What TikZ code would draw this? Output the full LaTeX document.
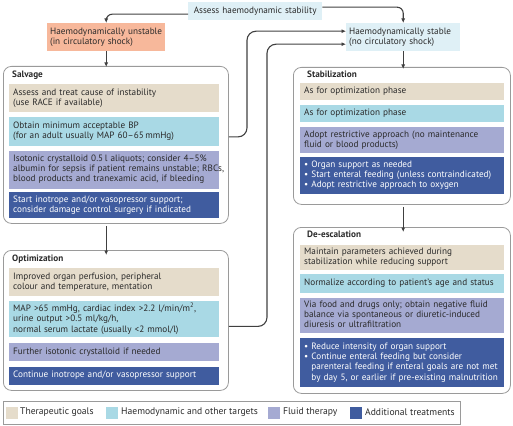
\documentclass[tikz,border=0pt]{standalone}
\usepackage{fontspec}
\setmainfont{PT Sans}
\usetikzlibrary{arrows.meta}
\definecolor{goalc}{HTML}{E5DCCB}
\definecolor{tgtc}{HTML}{A9D9E5}
\definecolor{fluidc}{HTML}{A5AAD2}
\definecolor{addc}{HTML}{405C9F}
\definecolor{orangec}{HTML}{F7B89B}
\definecolor{lightc}{HTML}{DFF0F6}
\definecolor{linec}{HTML}{404040}
\definecolor{borderc}{HTML}{9A9A9A}
\definecolor{textc}{HTML}{2A2A2A}
\newcommand{\fs}{\fontsize{9.2pt}{10.2pt}\selectfont}
\newcommand{\tl}[1]{\begin{tabular}{@{}l@{}}#1\end{tabular}}
\tikzset{
  ib/.style={anchor=north west, inner xsep=4pt, inner ysep=0pt, align=left, font=\fs, text=textc},
  goal/.style={ib, fill=goalc},
  tgt/.style={ib, fill=tgtc},
  fluid/.style={ib, fill=fluidc},
  add/.style={ib, fill=addc, text=white},
  lc/.style={text width=202pt},
  rc/.style={text width=196pt},
  big/.style={anchor=north west, draw=borderc, line width=0.8pt, rounded corners=8pt, fill=white, inner sep=0pt},
  ttl/.style={anchor=north west, inner sep=0pt, font=\fs\bfseries, text=textc},
  arr/.style={draw=linec, line width=1.1pt, -{Latex[length=4.5pt,width=4pt]}},
  state/.style={anchor=north west, inner xsep=3pt, inner ysep=0pt, align=left, font=\fs, text=textc},
  sw/.style={anchor=west, minimum width=12pt, minimum height=12pt, inner sep=0pt},
  lgt/.style={anchor=west, font=\fontsize{9.6pt}{10pt}\selectfont, text=textc, inner sep=0pt}
}
\begin{document}
\begin{tikzpicture}[x=1pt,y=-1pt]
\useasboundingbox (0,0) rectangle (513,425);
% top
\node[state, fill=lightc, minimum width=134pt, minimum height=18pt, align=center, anchor=north west, text width=128pt] (top) at (188,2) {Assess haemodynamic stability};
\node[state, fill=orangec, minimum width=118pt, minimum height=28pt, text width=112pt] (unst) at (47,23) {\tl{Haemodynamically unstable\\(in circulatory shock)}};
\node[state, fill=lightc, minimum width=114pt, minimum height=28pt, text width=108pt] (stab) at (346,23) {\tl{Haemodynamically stable\\(no circulatory shock)}};
% Salvage
\node[big, minimum width=225pt, minimum height=157pt] (salv) at (3,66) {};
\node[ttl] (salvt) at (12,71) {Salvage};
\node[goal, lc, minimum height=28pt] (s1) at (9,84) {\tl{Assess and treat cause of instability\\(use RACE if available)}};
\node[tgt, lc, minimum height=29pt] (s2) at (9,117) {\tl{Obtain minimum acceptable BP\\(for an adult usually MAP 60–65\,mmHg)}};
\node[fluid, lc, minimum height=38pt] (s3) at (9,150.5) {\tl{Isotonic crystalloid 0.5\,l aliquots; consider 4–5\%\\albumin for sepsis if patient remains unstable; RBCs,\\blood products and tranexamic acid, if bleeding}};
\node[add, lc, minimum height=26pt] (s4) at (9,192) {\tl{Start inotrope and/or vasopressor support;\\consider damage control surgery if indicated}};
% Optimization
\node[big, minimum width=225pt, minimum height=140pt] (opt) at (3,250) {};
\node[ttl] (optt) at (12,255) {Optimization};
\node[goal, lc, minimum height=28pt] (o1) at (9,268) {\tl{Improved organ perfusion, peripheral\\colour and temperature, mentation}};
\node[tgt, lc, minimum height=36pt] (o2) at (9,301) {\tl{MAP >65 mmHg, cardiac index >2.2 l/min/m\textsuperscript{2},\\urine output >0.5 ml/kg/h,\\normal serum lactate (usually <2 mmol/l)}};
\node[fluid, lc, minimum height=18pt] (o3) at (9,343) {\tl{Further isotonic crystalloid if needed}};
\node[add, lc, minimum height=18pt] (o4) at (9,366.5) {\tl{Continue inotrope and/or vasopressor support}};
% Stabilization
\node[big, minimum width=217pt, minimum height=137pt] (stz) at (293,67) {};
\node[ttl] (stzt) at (307,71) {Stabilization};
\node[goal, rc, minimum height=17pt] (t1) at (300,83) {\tl{As for optimization phase}};
\node[tgt, rc, minimum height=17pt] (t2) at (300,105) {\tl{As for optimization phase}};
\node[fluid, rc, minimum height=26pt] (t3) at (300,127) {\tl{Adopt restrictive approach (no maintenance\\fluid or blood products)}};
\node[add, rc, minimum height=37pt] (t4) at (300,157) {\tl{• Organ support as needed\\• Start enteral feeding (unless contraindicated)\\• Adopt restrictive approach to oxygen}};
% De-escalation
\node[big, minimum width=217pt, minimum height=166pt] (dee) at (293,227) {};
\node[ttl] (deet) at (307,231) {De-escalation};
\node[goal, rc, minimum height=25pt] (d1) at (300,245) {\tl{Maintain parameters achieved during\\stabilization while reducing support}};
\node[tgt, rc, minimum height=19pt] (d2) at (300,273.5) {\tl{Normalize according to patient’s age and status}};
\node[fluid, rc, minimum height=35.5pt] (d3) at (300,297.5) {\tl{Via food and drugs only; obtain negative fluid\\balance via spontaneous or diuretic-induced\\diuresis or ultrafiltration}};
\node[add, rc, minimum height=49pt] (d4) at (300,338) {\tl{• Reduce intensity of organ support\\• Continue enteral feeding but consider\\\phantom{• }parenteral feeding if enteral goals are not met\\\phantom{• }by day 5, or earlier if pre-existing malnutrition}};
% connectors
\coordinate (cx1) at (247,0);
\coordinate (cx2) at (267,0);
\draw[arr, rounded corners=6pt] ([yshift=-3pt]top.west) -| (unst.north);
\draw[arr, rounded corners=6pt] ([yshift=4pt]top.east) -| (stab.north);
\draw[arr] (unst.south) -- ([yshift=-1pt]salv.north -| unst.south);
\draw[arr] (stab.south) -- ([yshift=-2pt]stz.north -| stab.south);
\draw[arr] ([yshift=-2pt]salv.south -| unst.south) -- ([yshift=-5pt]opt.north -| unst.south);
\draw[arr] ([yshift=-2pt]stz.south -| stab.south) -- ([yshift=-5pt]dee.north -| stab.south);
\draw[arr, rounded corners=9pt] ([yshift=8pt]salv.east) -- ([yshift=8pt]salv.east -| cx1) |- ([yshift=6pt]stab.west);
\draw[arr, rounded corners=9pt] ([yshift=-6pt]opt.east) -- ([yshift=-6pt]opt.east -| cx2) |- ([yshift=-7pt]stab.west);
% legend
\node[anchor=north west, draw=borderc, line width=0.8pt, minimum width=457pt, minimum height=23pt, inner sep=0pt] (leg) at (3,401) {};
\node[sw, fill=goalc] (lg1) at (6,412.5) {};
\node[lgt] (lt1) at (20,412.5) {Therapeutic goals};
\node[sw, fill=tgtc] (lg2) at (106,412.5) {};
\node[lgt] (lt2) at (121,412.5) {Haemodynamic and other targets};
\node[sw, fill=fluidc] (lg3) at (268,412.5) {};
\node[lgt] (lt3) at (283,412.5) {Fluid therapy};
\node[sw, fill=addc] (lg4) at (350,412.5) {};
\node[lgt] (lt4) at (365,412.5) {Additional treatments};
\end{tikzpicture}
\end{document}
